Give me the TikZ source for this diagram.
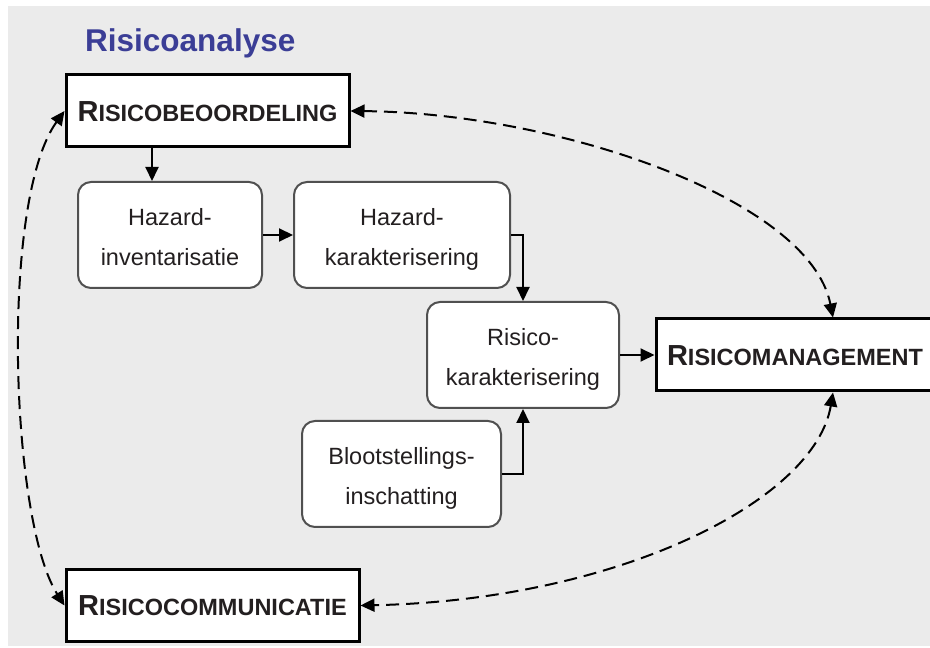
\documentclass[tikz,border=0pt]{standalone}
\usepackage{fontspec}
\setmainfont{Liberation Sans}
\usetikzlibrary{arrows.meta}
\definecolor{bggray}{RGB}{235,235,235}
\definecolor{titleblue}{RGB}{59,62,150}
\definecolor{txt}{RGB}{35,31,32}
\definecolor{rborder}{RGB}{80,80,80}
\newcommand\mysc[2]{{\fontsize{29}{29}\selectfont #1}{\fontsize{23.5}{23.5}\selectfont #2}}
\begin{document}
\begin{tikzpicture}[x=1pt,y=1pt,
  mainbox/.style={draw=black, line width=3pt, fill=white, text=txt, font=\bfseries, inner sep=0pt, minimum height=72pt, text height=21pt, text depth=0pt},
  stepbox/.style={draw=rborder, line width=2pt, fill=white, rounded corners=13pt, text=txt, font=\fontsize{23.5}{40}\selectfont, align=center, inner sep=0pt, minimum height=106pt, text height=62pt, text depth=0pt},
  arr/.style={line width=2pt, -{Triangle[length=14pt,width=13pt]}},
  darr/.style={line width=2pt, dash pattern=on 13pt off 7pt, {Triangle[length=14pt,width=13pt]}-{Triangle[length=14pt,width=13pt]}}
]
\useasboundingbox (0,0) rectangle (930,648);
\clip (0,0) rectangle (930,648);
\fill[bggray] (8,2) rectangle (930,642);

\node[text=titleblue, font=\bfseries\fontsize{31.5}{31.5}\selectfont, anchor=base west, inner sep=0pt] (title) at (85,596) {Risicoanalyse};

\node[mainbox, minimum width=283pt] (RB) at (207.5,537) {\mysc{R}{ISICOBEOORDELING}};
\node[stepbox, minimum width=184pt] (HI) at (170,413) {Hazard-\\inventarisatie};
\node[stepbox, minimum width=216pt] (HK) at (402,413) {Hazard-\\karakterisering};
\node[stepbox, minimum width=192pt] (RK) at (523,293) {Risico-\\karakterisering};
\node[stepbox, minimum width=199pt] (BI) at (401.5,174) {Blootstellings-\\inschatting};
\node[mainbox, minimum width=278pt] (RM) at (795,293) {\mysc{R}{ISICOMANAGEMENT}};
\node[mainbox, minimum width=293pt] (RC) at (212.5,42.5) {\mysc{R}{ISICOCOMMUNICATIE}};

\coordinate (c1) at (152,0);
\coordinate (c2) at (833,0);

\draw[arr] (RB.south -| c1) -- (HI.north -| c1);
\draw[arr] (HI.east) -- (HK.west);
\draw[arr] (HK.east) -| (RK.north);
\draw[arr] (BI.east) -| (RK.south);
\draw[arr] (RK.east) -- (RM.west);

\draw[darr] (RB.east) .. controls (560,535) and (810,448) .. (RM.north -| c2);
\draw[darr] (RM.south -| c2) .. controls (815,148) and (620,48) .. (RC.east);
\draw[darr] (RB.west) .. controls (0,448) and (10,128) .. (RC.west);
\end{tikzpicture}
\end{document}
